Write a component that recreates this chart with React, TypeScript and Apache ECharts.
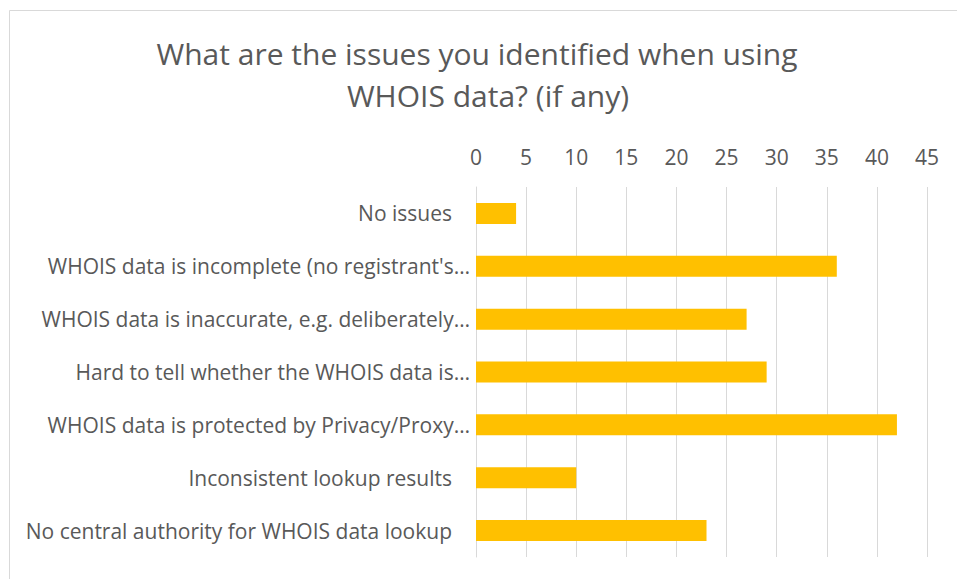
import React, { useEffect, useRef } from "react";
import * as echarts from "echarts";

const titleLines = ["What are the issues you identified when using", "WHOIS data? (if any)"];
const categories = [
  "No issues",
  "WHOIS data is incomplete (no registrant's…",
  "WHOIS data is inaccurate, e.g. deliberately…",
  "Hard to tell whether the WHOIS data is…",
  "WHOIS data is protected by Privacy/Proxy…",
  "Inconsistent lookup results",
  "No central authority for WHOIS data lookup",
];
const values = [4, 36, 27, 29, 42, 10, 23];
const xTicks = { min: 0, max: 45, interval: 5 };

const FONT = "Open Sans";
const TEXT = "#595959";
const GRID = "#d9d9d9";

export default function App() {
  const ref = useRef<HTMLDivElement>(null);
  useEffect(() => {
    document.body.style.margin = "0";
    const chart = echarts.init(ref.current!, null, { renderer: "svg" });
    const titleStyle = { fontFamily: FONT, fontSize: 30, lineHeight: 42, color: TEXT };
    chart.setOption({
      animation: false,
      backgroundColor: "#ffffff",
      graphic: [
        {
          type: "rect",
          shape: { x: 9.5, y: 10.5, width: 960, height: 600 },
          style: { fill: "none", stroke: GRID, lineWidth: 1 },
          silent: true,
        },
        {
          type: "text",
          x: 482,
          y: 74,
          style: {
            text: `{a|${titleLines[0]}}\n{b|${titleLines[1]}}`,
            fontFamily: FONT,
            fontSize: 30,
            lineHeight: 42,
            fill: TEXT,
            align: "center",
            verticalAlign: "middle",
            rich: {
              a: { ...titleStyle, padding: [0, 10, 0, 0] },
              b: { ...titleStyle, padding: [0, 0, 0, 12] },
            },
          },
        },
      ],
      grid: { left: 476, right: 30, top: 187, bottom: 22, containLabel: false },
      xAxis: {
        type: "value",
        position: "top",
        min: xTicks.min,
        max: xTicks.max,
        interval: xTicks.interval,
        axisLine: { show: false },
        axisTick: { show: false },
        splitLine: { show: true, lineStyle: { color: GRID, width: 1 } },
        axisLabel: { color: TEXT, fontSize: 21, fontFamily: FONT, margin: 20 },
      },
      yAxis: {
        type: "category",
        inverse: true,
        data: categories,
        axisLine: { show: true, lineStyle: { color: GRID, width: 1 } },
        axisTick: { show: false },
        axisLabel: {
          color: TEXT,
          fontSize: 21,
          fontFamily: FONT,
          margin: 6,
          formatter: (v: string) => (v.endsWith("…") ? v : `{p|${v}}`),
          rich: {
            p: { color: TEXT, fontSize: 21, fontFamily: FONT, padding: [0, 18, 0, 0] },
          },
        },
      },
      series: [
        {
          type: "bar",
          data: values,
          barWidth: 21,
          itemStyle: { color: "#FFC000" },
        },
      ],
    });
    return () => chart.dispose();
  }, []);
  return <div ref={ref} style={{ width: 957, height: 579 }} />;
}
